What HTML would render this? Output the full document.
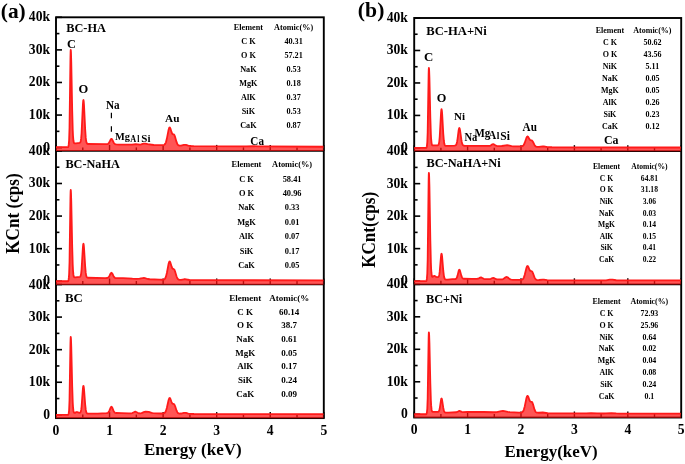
<!DOCTYPE html><html><head><meta charset="utf-8"><style>html,body{margin:0;padding:0;background:#fff;}svg{display:block;}text{font-family:"Liberation Serif", serif;fill:#000;} .tx{filter:grayscale(1);}</style></head><body>
<svg width="685" height="464" viewBox="0 0 685 464">
<rect width="685" height="464" fill="#fff"/>
<line x1="56.00" y1="147.64" x2="62.00" y2="147.64" stroke="#000" stroke-width="1.6"/>
<line x1="56.00" y1="131.35" x2="59.40" y2="131.35" stroke="#000" stroke-width="1.6"/>
<line x1="56.00" y1="115.06" x2="62.00" y2="115.06" stroke="#000" stroke-width="1.6"/>
<line x1="56.00" y1="98.76" x2="59.40" y2="98.76" stroke="#000" stroke-width="1.6"/>
<line x1="56.00" y1="82.47" x2="62.00" y2="82.47" stroke="#000" stroke-width="1.6"/>
<line x1="56.00" y1="66.18" x2="59.40" y2="66.18" stroke="#000" stroke-width="1.6"/>
<line x1="56.00" y1="49.89" x2="62.00" y2="49.89" stroke="#000" stroke-width="1.6"/>
<line x1="56.00" y1="33.59" x2="59.40" y2="33.59" stroke="#000" stroke-width="1.6"/>
<line x1="56.00" y1="17.30" x2="62.00" y2="17.30" stroke="#000" stroke-width="1.6"/>
<line x1="56.00" y1="150.90" x2="56.00" y2="144.90" stroke="#000" stroke-width="1.4"/>
<line x1="82.78" y1="150.90" x2="82.78" y2="147.40" stroke="#000" stroke-width="1.4"/>
<line x1="109.56" y1="150.90" x2="109.56" y2="144.90" stroke="#000" stroke-width="1.4"/>
<line x1="136.34" y1="150.90" x2="136.34" y2="147.40" stroke="#000" stroke-width="1.4"/>
<line x1="163.12" y1="150.90" x2="163.12" y2="144.90" stroke="#000" stroke-width="1.4"/>
<line x1="189.90" y1="150.90" x2="189.90" y2="147.40" stroke="#000" stroke-width="1.4"/>
<line x1="216.68" y1="150.90" x2="216.68" y2="144.90" stroke="#000" stroke-width="1.4"/>
<line x1="243.46" y1="150.90" x2="243.46" y2="147.40" stroke="#000" stroke-width="1.4"/>
<line x1="270.24" y1="150.90" x2="270.24" y2="144.90" stroke="#000" stroke-width="1.4"/>
<line x1="297.02" y1="150.90" x2="297.02" y2="147.40" stroke="#000" stroke-width="1.4"/>
<line x1="323.80" y1="150.90" x2="323.80" y2="144.90" stroke="#000" stroke-width="1.4"/>
<line x1="56.00" y1="281.24" x2="62.00" y2="281.24" stroke="#000" stroke-width="1.6"/>
<line x1="56.00" y1="264.95" x2="59.40" y2="264.95" stroke="#000" stroke-width="1.6"/>
<line x1="56.00" y1="248.66" x2="62.00" y2="248.66" stroke="#000" stroke-width="1.6"/>
<line x1="56.00" y1="232.36" x2="59.40" y2="232.36" stroke="#000" stroke-width="1.6"/>
<line x1="56.00" y1="216.07" x2="62.00" y2="216.07" stroke="#000" stroke-width="1.6"/>
<line x1="56.00" y1="199.78" x2="59.40" y2="199.78" stroke="#000" stroke-width="1.6"/>
<line x1="56.00" y1="183.49" x2="62.00" y2="183.49" stroke="#000" stroke-width="1.6"/>
<line x1="56.00" y1="167.19" x2="59.40" y2="167.19" stroke="#000" stroke-width="1.6"/>
<line x1="56.00" y1="150.90" x2="62.00" y2="150.90" stroke="#000" stroke-width="1.6"/>
<line x1="56.00" y1="284.50" x2="56.00" y2="278.50" stroke="#000" stroke-width="1.4"/>
<line x1="82.78" y1="284.50" x2="82.78" y2="281.00" stroke="#000" stroke-width="1.4"/>
<line x1="109.56" y1="284.50" x2="109.56" y2="278.50" stroke="#000" stroke-width="1.4"/>
<line x1="136.34" y1="284.50" x2="136.34" y2="281.00" stroke="#000" stroke-width="1.4"/>
<line x1="163.12" y1="284.50" x2="163.12" y2="278.50" stroke="#000" stroke-width="1.4"/>
<line x1="189.90" y1="284.50" x2="189.90" y2="281.00" stroke="#000" stroke-width="1.4"/>
<line x1="216.68" y1="284.50" x2="216.68" y2="278.50" stroke="#000" stroke-width="1.4"/>
<line x1="243.46" y1="284.50" x2="243.46" y2="281.00" stroke="#000" stroke-width="1.4"/>
<line x1="270.24" y1="284.50" x2="270.24" y2="278.50" stroke="#000" stroke-width="1.4"/>
<line x1="297.02" y1="284.50" x2="297.02" y2="281.00" stroke="#000" stroke-width="1.4"/>
<line x1="323.80" y1="284.50" x2="323.80" y2="278.50" stroke="#000" stroke-width="1.4"/>
<line x1="56.00" y1="414.84" x2="62.00" y2="414.84" stroke="#000" stroke-width="1.6"/>
<line x1="56.00" y1="398.55" x2="59.40" y2="398.55" stroke="#000" stroke-width="1.6"/>
<line x1="56.00" y1="382.26" x2="62.00" y2="382.26" stroke="#000" stroke-width="1.6"/>
<line x1="56.00" y1="365.96" x2="59.40" y2="365.96" stroke="#000" stroke-width="1.6"/>
<line x1="56.00" y1="349.67" x2="62.00" y2="349.67" stroke="#000" stroke-width="1.6"/>
<line x1="56.00" y1="333.38" x2="59.40" y2="333.38" stroke="#000" stroke-width="1.6"/>
<line x1="56.00" y1="317.09" x2="62.00" y2="317.09" stroke="#000" stroke-width="1.6"/>
<line x1="56.00" y1="300.79" x2="59.40" y2="300.79" stroke="#000" stroke-width="1.6"/>
<line x1="56.00" y1="284.50" x2="62.00" y2="284.50" stroke="#000" stroke-width="1.6"/>
<line x1="56.00" y1="418.10" x2="56.00" y2="412.10" stroke="#000" stroke-width="1.4"/>
<line x1="82.78" y1="418.10" x2="82.78" y2="414.60" stroke="#000" stroke-width="1.4"/>
<line x1="109.56" y1="418.10" x2="109.56" y2="412.10" stroke="#000" stroke-width="1.4"/>
<line x1="136.34" y1="418.10" x2="136.34" y2="414.60" stroke="#000" stroke-width="1.4"/>
<line x1="163.12" y1="418.10" x2="163.12" y2="412.10" stroke="#000" stroke-width="1.4"/>
<line x1="189.90" y1="418.10" x2="189.90" y2="414.60" stroke="#000" stroke-width="1.4"/>
<line x1="216.68" y1="418.10" x2="216.68" y2="412.10" stroke="#000" stroke-width="1.4"/>
<line x1="243.46" y1="418.10" x2="243.46" y2="414.60" stroke="#000" stroke-width="1.4"/>
<line x1="270.24" y1="418.10" x2="270.24" y2="412.10" stroke="#000" stroke-width="1.4"/>
<line x1="297.02" y1="418.10" x2="297.02" y2="414.60" stroke="#000" stroke-width="1.4"/>
<line x1="323.80" y1="418.10" x2="323.80" y2="412.10" stroke="#000" stroke-width="1.4"/>
<rect x="56.00" y="17.30" width="267.80" height="400.80" fill="none" stroke="#000" stroke-width="1.9"/>
<line x1="56.00" y1="150.90" x2="323.80" y2="150.90" stroke="#000" stroke-width="1.7"/>
<line x1="56.00" y1="284.50" x2="323.80" y2="284.50" stroke="#000" stroke-width="1.7"/>
<path d="M56.00,151.10 L56.00,147.09 L68.05,147.07 L68.18,146.96 L68.45,146.19 L68.72,144.70 L69.12,139.96 L69.52,127.55 L70.46,57.65 L70.60,51.86 L70.73,49.83 L70.86,50.63 L71.00,53.01 L71.26,61.93 L72.20,110.63 L72.74,130.13 L73.01,135.80 L73.41,140.51 L73.81,142.47 L74.08,143.00 L74.48,143.30 L75.01,143.39 L75.95,143.34 L79.70,142.82 L80.10,142.56 L80.37,142.17 L80.77,140.91 L81.17,138.19 L81.57,133.23 L82.91,104.52 L83.18,101.04 L83.32,100.20 L83.45,100.02 L83.72,101.40 L83.99,104.79 L85.19,129.64 L85.73,137.39 L86.13,140.77 L86.53,142.60 L86.80,143.25 L87.06,143.64 L87.33,143.85 L87.73,144.00 L105.14,144.20 L107.28,144.10 L108.09,143.77 L108.76,143.13 L109.29,142.28 L110.63,139.57 L111.03,139.05 L111.43,138.87 L111.84,139.07 L112.24,139.61 L113.58,142.39 L114.25,143.43 L115.05,144.09 L116.12,144.40 L119.20,144.54 L130.31,144.64 L132.06,144.57 L135.80,144.22 L139.82,144.53 L141.16,144.36 L143.57,143.72 L144.51,143.63 L145.45,143.73 L147.72,144.18 L153.75,145.01 L160.98,145.19 L162.58,145.17 L163.52,145.07 L164.33,144.76 L164.86,144.30 L165.40,143.50 L165.93,142.23 L166.87,138.60 L168.61,129.70 L169.15,128.01 L169.41,127.57 L169.68,127.42 L169.95,127.59 L170.35,128.35 L171.56,132.15 L172.09,133.40 L172.63,134.05 L173.56,134.34 L173.97,134.57 L174.50,135.33 L175.17,137.15 L176.51,141.88 L177.31,143.92 L177.72,144.58 L178.25,145.14 L178.79,145.43 L179.32,145.56 L181.06,145.53 L183.87,144.94 L184.95,144.83 L186.02,144.96 L188.29,145.62 L189.50,145.87 L191.11,146.02 L193.78,146.10 L246.27,146.33 L253.77,146.13 L258.59,146.38 L262.34,146.46 L323.40,146.76 L323.40,151.10 Z" fill="rgba(255,20,20,0.72)" stroke="none"/>
<path d="M56.00,147.09 L68.05,147.07 L68.18,146.96 L68.45,146.19 L68.72,144.70 L69.12,139.96 L69.52,127.55 L70.46,57.65 L70.60,51.86 L70.73,49.83 L70.86,50.63 L71.00,53.01 L71.26,61.93 L72.20,110.63 L72.74,130.13 L73.01,135.80 L73.41,140.51 L73.81,142.47 L74.08,143.00 L74.48,143.30 L75.01,143.39 L75.95,143.34 L79.70,142.82 L80.10,142.56 L80.37,142.17 L80.77,140.91 L81.17,138.19 L81.57,133.23 L82.91,104.52 L83.18,101.04 L83.32,100.20 L83.45,100.02 L83.72,101.40 L83.99,104.79 L85.19,129.64 L85.73,137.39 L86.13,140.77 L86.53,142.60 L86.80,143.25 L87.06,143.64 L87.33,143.85 L87.73,144.00 L105.14,144.20 L107.28,144.10 L108.09,143.77 L108.76,143.13 L109.29,142.28 L110.63,139.57 L111.03,139.05 L111.43,138.87 L111.84,139.07 L112.24,139.61 L113.58,142.39 L114.25,143.43 L115.05,144.09 L116.12,144.40 L119.20,144.54 L130.31,144.64 L132.06,144.57 L135.80,144.22 L139.82,144.53 L141.16,144.36 L143.57,143.72 L144.51,143.63 L145.45,143.73 L147.72,144.18 L153.75,145.01 L160.98,145.19 L162.58,145.17 L163.52,145.07 L164.33,144.76 L164.86,144.30 L165.40,143.50 L165.93,142.23 L166.87,138.60 L168.61,129.70 L169.15,128.01 L169.41,127.57 L169.68,127.42 L169.95,127.59 L170.35,128.35 L171.56,132.15 L172.09,133.40 L172.63,134.05 L173.56,134.34 L173.97,134.57 L174.50,135.33 L175.17,137.15 L176.51,141.88 L177.31,143.92 L177.72,144.58 L178.25,145.14 L178.79,145.43 L179.32,145.56 L181.06,145.53 L183.87,144.94 L184.95,144.83 L186.02,144.96 L188.29,145.62 L189.50,145.87 L191.11,146.02 L193.78,146.10 L246.27,146.33 L253.77,146.13 L258.59,146.38 L262.34,146.46 L323.40,146.76" fill="none" stroke="#ff1a1a" stroke-width="1.8" stroke-linejoin="round"/>
<path d="M56.00,284.70 L56.00,281.24 L68.05,281.23 L68.32,280.79 L68.59,279.64 L68.85,277.67 L69.12,274.18 L69.52,262.54 L70.46,197.27 L70.60,191.86 L70.73,189.97 L70.86,190.72 L71.00,192.95 L71.26,201.29 L72.20,246.79 L72.74,265.01 L73.01,270.30 L73.41,274.70 L73.81,276.52 L74.08,277.00 L74.48,277.26 L75.15,277.29 L79.70,276.93 L80.10,276.73 L80.37,276.43 L80.77,275.45 L81.17,273.34 L81.57,269.50 L82.91,247.25 L83.18,244.55 L83.32,243.90 L83.45,243.76 L83.72,244.82 L83.99,247.44 L85.19,266.68 L85.73,272.67 L86.13,275.28 L86.53,276.70 L87.06,277.50 L87.73,277.77 L105.14,278.11 L107.28,278.02 L108.09,277.70 L108.76,277.05 L109.29,276.21 L110.63,273.49 L111.03,272.96 L111.43,272.77 L111.84,272.96 L112.24,273.49 L113.58,276.21 L114.25,277.22 L114.92,277.78 L115.85,278.08 L123.08,278.20 L132.46,278.70 L136.34,278.80 L139.55,278.70 L142.77,278.08 L143.84,278.01 L144.91,278.17 L147.72,278.99 L149.73,279.26 L159.24,279.72 L162.18,279.76 L163.52,279.64 L164.33,279.32 L164.86,278.85 L165.40,278.02 L165.93,276.70 L166.87,272.96 L168.61,263.79 L169.15,262.05 L169.41,261.60 L169.68,261.45 L169.95,261.62 L170.35,262.41 L171.56,266.42 L172.23,268.04 L172.76,268.64 L173.97,269.20 L174.37,269.71 L174.64,270.23 L175.17,271.72 L176.51,276.28 L177.31,278.24 L177.72,278.87 L178.25,279.41 L178.79,279.69 L179.32,279.82 L181.06,279.80 L184.01,279.27 L184.95,279.19 L186.02,279.29 L189.50,280.00 L193.65,280.16 L323.40,280.33 L323.40,284.70 Z" fill="rgba(255,20,20,0.72)" stroke="none"/>
<path d="M56.00,281.24 L68.05,281.23 L68.32,280.79 L68.59,279.64 L68.85,277.67 L69.12,274.18 L69.52,262.54 L70.46,197.27 L70.60,191.86 L70.73,189.97 L70.86,190.72 L71.00,192.95 L71.26,201.29 L72.20,246.79 L72.74,265.01 L73.01,270.30 L73.41,274.70 L73.81,276.52 L74.08,277.00 L74.48,277.26 L75.15,277.29 L79.70,276.93 L80.10,276.73 L80.37,276.43 L80.77,275.45 L81.17,273.34 L81.57,269.50 L82.91,247.25 L83.18,244.55 L83.32,243.90 L83.45,243.76 L83.72,244.82 L83.99,247.44 L85.19,266.68 L85.73,272.67 L86.13,275.28 L86.53,276.70 L87.06,277.50 L87.73,277.77 L105.14,278.11 L107.28,278.02 L108.09,277.70 L108.76,277.05 L109.29,276.21 L110.63,273.49 L111.03,272.96 L111.43,272.77 L111.84,272.96 L112.24,273.49 L113.58,276.21 L114.25,277.22 L114.92,277.78 L115.85,278.08 L123.08,278.20 L132.46,278.70 L136.34,278.80 L139.55,278.70 L142.77,278.08 L143.84,278.01 L144.91,278.17 L147.72,278.99 L149.73,279.26 L159.24,279.72 L162.18,279.76 L163.52,279.64 L164.33,279.32 L164.86,278.85 L165.40,278.02 L165.93,276.70 L166.87,272.96 L168.61,263.79 L169.15,262.05 L169.41,261.60 L169.68,261.45 L169.95,261.62 L170.35,262.41 L171.56,266.42 L172.23,268.04 L172.76,268.64 L173.97,269.20 L174.37,269.71 L174.64,270.23 L175.17,271.72 L176.51,276.28 L177.31,278.24 L177.72,278.87 L178.25,279.41 L178.79,279.69 L179.32,279.82 L181.06,279.80 L184.01,279.27 L184.95,279.19 L186.02,279.29 L189.50,280.00 L193.65,280.16 L323.40,280.33" fill="none" stroke="#ff1a1a" stroke-width="1.8" stroke-linejoin="round"/>
<path d="M56.00,418.30 L56.00,414.84 L68.05,414.83 L68.18,414.77 L68.45,414.35 L68.72,413.45 L69.12,410.03 L69.52,400.06 L70.46,343.29 L70.60,338.58 L70.73,336.94 L70.86,337.59 L71.00,339.52 L71.26,346.78 L72.20,386.37 L72.74,402.23 L73.01,406.84 L73.41,410.68 L73.81,412.26 L74.08,412.68 L74.34,412.86 L75.01,412.83 L76.35,412.15 L76.89,412.01 L77.42,412.11 L78.76,412.70 L79.70,412.79 L80.10,412.65 L80.37,412.41 L80.77,411.62 L81.17,409.91 L81.57,406.78 L82.91,388.66 L83.18,386.47 L83.32,385.94 L83.45,385.83 L83.72,386.70 L83.99,388.85 L85.19,404.57 L85.73,409.47 L86.13,411.61 L86.53,412.77 L87.06,413.43 L87.73,413.66 L97.64,413.68 L106.48,413.19 L107.42,413.03 L108.09,412.68 L108.76,411.90 L109.29,410.88 L110.63,407.62 L111.03,406.98 L111.43,406.75 L111.84,406.97 L112.24,407.59 L113.58,410.82 L114.25,412.01 L114.65,412.47 L115.05,412.75 L115.99,413.02 L121.74,413.07 L128.71,413.34 L130.85,413.34 L132.32,413.07 L134.47,411.94 L135.27,411.75 L136.07,411.94 L138.21,413.07 L139.02,413.26 L140.09,413.30 L141.56,413.08 L144.37,411.86 L145.71,411.65 L148.79,411.95 L151.60,412.88 L153.08,413.14 L160.98,413.50 L162.58,413.51 L163.52,413.42 L164.33,413.15 L164.86,412.75 L165.40,412.05 L165.93,410.93 L166.87,407.76 L168.61,399.97 L169.15,398.48 L169.41,398.09 L169.68,397.96 L169.95,398.09 L170.35,398.74 L171.56,402.03 L172.09,403.11 L172.63,403.66 L173.97,404.08 L174.50,404.73 L175.17,406.31 L176.51,410.41 L177.31,412.17 L177.72,412.74 L178.25,413.22 L178.79,413.48 L179.32,413.59 L181.20,413.52 L183.87,412.93 L184.95,412.82 L186.02,412.94 L188.29,413.58 L189.63,413.83 L193.92,414.02 L323.40,414.12 L323.40,418.30 Z" fill="rgba(255,20,20,0.72)" stroke="none"/>
<path d="M56.00,414.84 L68.05,414.83 L68.18,414.77 L68.45,414.35 L68.72,413.45 L69.12,410.03 L69.52,400.06 L70.46,343.29 L70.60,338.58 L70.73,336.94 L70.86,337.59 L71.00,339.52 L71.26,346.78 L72.20,386.37 L72.74,402.23 L73.01,406.84 L73.41,410.68 L73.81,412.26 L74.08,412.68 L74.34,412.86 L75.01,412.83 L76.35,412.15 L76.89,412.01 L77.42,412.11 L78.76,412.70 L79.70,412.79 L80.10,412.65 L80.37,412.41 L80.77,411.62 L81.17,409.91 L81.57,406.78 L82.91,388.66 L83.18,386.47 L83.32,385.94 L83.45,385.83 L83.72,386.70 L83.99,388.85 L85.19,404.57 L85.73,409.47 L86.13,411.61 L86.53,412.77 L87.06,413.43 L87.73,413.66 L97.64,413.68 L106.48,413.19 L107.42,413.03 L108.09,412.68 L108.76,411.90 L109.29,410.88 L110.63,407.62 L111.03,406.98 L111.43,406.75 L111.84,406.97 L112.24,407.59 L113.58,410.82 L114.25,412.01 L114.65,412.47 L115.05,412.75 L115.99,413.02 L121.74,413.07 L128.71,413.34 L130.85,413.34 L132.32,413.07 L134.47,411.94 L135.27,411.75 L136.07,411.94 L138.21,413.07 L139.02,413.26 L140.09,413.30 L141.56,413.08 L144.37,411.86 L145.71,411.65 L148.79,411.95 L151.60,412.88 L153.08,413.14 L160.98,413.50 L162.58,413.51 L163.52,413.42 L164.33,413.15 L164.86,412.75 L165.40,412.05 L165.93,410.93 L166.87,407.76 L168.61,399.97 L169.15,398.48 L169.41,398.09 L169.68,397.96 L169.95,398.09 L170.35,398.74 L171.56,402.03 L172.09,403.11 L172.63,403.66 L173.97,404.08 L174.50,404.73 L175.17,406.31 L176.51,410.41 L177.31,412.17 L177.72,412.74 L178.25,413.22 L178.79,413.48 L179.32,413.59 L181.20,413.52 L183.87,412.93 L184.95,412.82 L186.02,412.94 L188.29,413.58 L189.63,413.83 L193.92,414.02 L323.40,414.12" fill="none" stroke="#ff1a1a" stroke-width="1.8" stroke-linejoin="round"/>
<line x1="414.20" y1="147.92" x2="420.20" y2="147.92" stroke="#000" stroke-width="1.6"/>
<line x1="414.20" y1="131.68" x2="417.60" y2="131.68" stroke="#000" stroke-width="1.6"/>
<line x1="414.20" y1="115.44" x2="420.20" y2="115.44" stroke="#000" stroke-width="1.6"/>
<line x1="414.20" y1="99.20" x2="417.60" y2="99.20" stroke="#000" stroke-width="1.6"/>
<line x1="414.20" y1="82.96" x2="420.20" y2="82.96" stroke="#000" stroke-width="1.6"/>
<line x1="414.20" y1="66.72" x2="417.60" y2="66.72" stroke="#000" stroke-width="1.6"/>
<line x1="414.20" y1="50.48" x2="420.20" y2="50.48" stroke="#000" stroke-width="1.6"/>
<line x1="414.20" y1="34.24" x2="417.60" y2="34.24" stroke="#000" stroke-width="1.6"/>
<line x1="414.20" y1="18.00" x2="420.20" y2="18.00" stroke="#000" stroke-width="1.6"/>
<line x1="414.20" y1="151.17" x2="414.20" y2="145.17" stroke="#000" stroke-width="1.4"/>
<line x1="440.90" y1="151.17" x2="440.90" y2="147.67" stroke="#000" stroke-width="1.4"/>
<line x1="467.60" y1="151.17" x2="467.60" y2="145.17" stroke="#000" stroke-width="1.4"/>
<line x1="494.30" y1="151.17" x2="494.30" y2="147.67" stroke="#000" stroke-width="1.4"/>
<line x1="521.00" y1="151.17" x2="521.00" y2="145.17" stroke="#000" stroke-width="1.4"/>
<line x1="547.70" y1="151.17" x2="547.70" y2="147.67" stroke="#000" stroke-width="1.4"/>
<line x1="574.40" y1="151.17" x2="574.40" y2="145.17" stroke="#000" stroke-width="1.4"/>
<line x1="601.10" y1="151.17" x2="601.10" y2="147.67" stroke="#000" stroke-width="1.4"/>
<line x1="627.80" y1="151.17" x2="627.80" y2="145.17" stroke="#000" stroke-width="1.4"/>
<line x1="654.50" y1="151.17" x2="654.50" y2="147.67" stroke="#000" stroke-width="1.4"/>
<line x1="681.20" y1="151.17" x2="681.20" y2="145.17" stroke="#000" stroke-width="1.4"/>
<line x1="414.20" y1="281.09" x2="420.20" y2="281.09" stroke="#000" stroke-width="1.6"/>
<line x1="414.20" y1="264.85" x2="417.60" y2="264.85" stroke="#000" stroke-width="1.6"/>
<line x1="414.20" y1="248.61" x2="420.20" y2="248.61" stroke="#000" stroke-width="1.6"/>
<line x1="414.20" y1="232.37" x2="417.60" y2="232.37" stroke="#000" stroke-width="1.6"/>
<line x1="414.20" y1="216.13" x2="420.20" y2="216.13" stroke="#000" stroke-width="1.6"/>
<line x1="414.20" y1="199.89" x2="417.60" y2="199.89" stroke="#000" stroke-width="1.6"/>
<line x1="414.20" y1="183.65" x2="420.20" y2="183.65" stroke="#000" stroke-width="1.6"/>
<line x1="414.20" y1="167.41" x2="417.60" y2="167.41" stroke="#000" stroke-width="1.6"/>
<line x1="414.20" y1="151.17" x2="420.20" y2="151.17" stroke="#000" stroke-width="1.6"/>
<line x1="414.20" y1="284.34" x2="414.20" y2="278.34" stroke="#000" stroke-width="1.4"/>
<line x1="440.90" y1="284.34" x2="440.90" y2="280.84" stroke="#000" stroke-width="1.4"/>
<line x1="467.60" y1="284.34" x2="467.60" y2="278.34" stroke="#000" stroke-width="1.4"/>
<line x1="494.30" y1="284.34" x2="494.30" y2="280.84" stroke="#000" stroke-width="1.4"/>
<line x1="521.00" y1="284.34" x2="521.00" y2="278.34" stroke="#000" stroke-width="1.4"/>
<line x1="547.70" y1="284.34" x2="547.70" y2="280.84" stroke="#000" stroke-width="1.4"/>
<line x1="574.40" y1="284.34" x2="574.40" y2="278.34" stroke="#000" stroke-width="1.4"/>
<line x1="601.10" y1="284.34" x2="601.10" y2="280.84" stroke="#000" stroke-width="1.4"/>
<line x1="627.80" y1="284.34" x2="627.80" y2="278.34" stroke="#000" stroke-width="1.4"/>
<line x1="654.50" y1="284.34" x2="654.50" y2="280.84" stroke="#000" stroke-width="1.4"/>
<line x1="681.20" y1="284.34" x2="681.20" y2="278.34" stroke="#000" stroke-width="1.4"/>
<line x1="414.20" y1="414.26" x2="420.20" y2="414.26" stroke="#000" stroke-width="1.6"/>
<line x1="414.20" y1="398.02" x2="417.60" y2="398.02" stroke="#000" stroke-width="1.6"/>
<line x1="414.20" y1="381.78" x2="420.20" y2="381.78" stroke="#000" stroke-width="1.6"/>
<line x1="414.20" y1="365.54" x2="417.60" y2="365.54" stroke="#000" stroke-width="1.6"/>
<line x1="414.20" y1="349.30" x2="420.20" y2="349.30" stroke="#000" stroke-width="1.6"/>
<line x1="414.20" y1="333.06" x2="417.60" y2="333.06" stroke="#000" stroke-width="1.6"/>
<line x1="414.20" y1="316.82" x2="420.20" y2="316.82" stroke="#000" stroke-width="1.6"/>
<line x1="414.20" y1="300.58" x2="417.60" y2="300.58" stroke="#000" stroke-width="1.6"/>
<line x1="414.20" y1="284.34" x2="420.20" y2="284.34" stroke="#000" stroke-width="1.6"/>
<line x1="414.20" y1="417.51" x2="414.20" y2="411.51" stroke="#000" stroke-width="1.4"/>
<line x1="440.90" y1="417.51" x2="440.90" y2="414.01" stroke="#000" stroke-width="1.4"/>
<line x1="467.60" y1="417.51" x2="467.60" y2="411.51" stroke="#000" stroke-width="1.4"/>
<line x1="494.30" y1="417.51" x2="494.30" y2="414.01" stroke="#000" stroke-width="1.4"/>
<line x1="521.00" y1="417.51" x2="521.00" y2="411.51" stroke="#000" stroke-width="1.4"/>
<line x1="547.70" y1="417.51" x2="547.70" y2="414.01" stroke="#000" stroke-width="1.4"/>
<line x1="574.40" y1="417.51" x2="574.40" y2="411.51" stroke="#000" stroke-width="1.4"/>
<line x1="601.10" y1="417.51" x2="601.10" y2="414.01" stroke="#000" stroke-width="1.4"/>
<line x1="627.80" y1="417.51" x2="627.80" y2="411.51" stroke="#000" stroke-width="1.4"/>
<line x1="654.50" y1="417.51" x2="654.50" y2="414.01" stroke="#000" stroke-width="1.4"/>
<line x1="681.20" y1="417.51" x2="681.20" y2="411.51" stroke="#000" stroke-width="1.4"/>
<rect x="414.20" y="18.00" width="267.00" height="399.51" fill="none" stroke="#000" stroke-width="1.9"/>
<line x1="414.20" y1="151.17" x2="681.20" y2="151.17" stroke="#000" stroke-width="1.7"/>
<line x1="414.20" y1="284.34" x2="681.20" y2="284.34" stroke="#000" stroke-width="1.7"/>
<path d="M414.20,151.37 L414.20,147.92 L426.21,147.91 L426.35,147.83 L426.62,147.28 L426.88,146.20 L427.28,142.47 L427.68,132.26 L428.62,74.47 L428.75,69.68 L428.88,68.01 L429.02,68.67 L429.15,70.64 L429.42,78.03 L430.35,118.36 L430.89,134.50 L431.15,139.20 L431.56,143.11 L431.96,144.73 L432.22,145.17 L432.62,145.41 L433.42,145.46 L437.83,145.24 L438.23,145.03 L438.50,144.70 L438.90,143.64 L439.30,141.34 L439.70,137.16 L441.03,113.01 L441.30,110.07 L441.43,109.36 L441.57,109.20 L441.83,110.34 L442.10,113.17 L443.30,133.96 L443.84,140.45 L444.24,143.26 L444.64,144.78 L444.90,145.32 L445.17,145.64 L445.84,145.92 L448.38,145.94 L454.52,145.67 L455.45,145.48 L455.99,145.06 L456.52,144.03 L457.05,141.96 L457.59,138.57 L458.66,130.20 L459.06,128.34 L459.32,127.97 L459.59,128.30 L459.99,129.91 L461.33,139.45 L461.73,141.76 L462.13,143.42 L462.53,144.50 L463.06,145.28 L463.59,145.60 L464.40,145.75 L480.82,145.96 L488.83,145.97 L489.63,145.87 L490.29,145.67 L490.96,145.33 L492.43,144.35 L493.23,144.13 L494.03,144.37 L495.50,145.39 L496.17,145.75 L496.84,145.97 L497.64,146.08 L499.51,146.12 L501.78,146.01 L505.78,145.34 L507.12,145.25 L508.45,145.40 L511.65,146.10 L513.39,146.30 L518.73,146.45 L521.53,146.37 L522.33,146.17 L522.87,145.87 L523.40,145.36 L523.80,144.79 L524.74,142.75 L526.47,137.73 L527.01,136.78 L527.27,136.53 L527.54,136.45 L527.81,136.55 L528.21,136.98 L529.41,139.13 L529.94,139.83 L530.48,140.18 L531.81,140.47 L532.35,140.91 L533.01,141.98 L534.35,144.73 L535.15,145.92 L535.55,146.30 L536.09,146.63 L537.15,146.87 L538.89,146.85 L542.76,146.39 L543.83,146.48 L547.43,147.11 L551.97,147.27 L680.80,147.50 L680.80,151.37 Z" fill="rgba(255,20,20,0.72)" stroke="none"/>
<path d="M414.20,147.92 L426.21,147.91 L426.35,147.83 L426.62,147.28 L426.88,146.20 L427.28,142.47 L427.68,132.26 L428.62,74.47 L428.75,69.68 L428.88,68.01 L429.02,68.67 L429.15,70.64 L429.42,78.03 L430.35,118.36 L430.89,134.50 L431.15,139.20 L431.56,143.11 L431.96,144.73 L432.22,145.17 L432.62,145.41 L433.42,145.46 L437.83,145.24 L438.23,145.03 L438.50,144.70 L438.90,143.64 L439.30,141.34 L439.70,137.16 L441.03,113.01 L441.30,110.07 L441.43,109.36 L441.57,109.20 L441.83,110.34 L442.10,113.17 L443.30,133.96 L443.84,140.45 L444.24,143.26 L444.64,144.78 L444.90,145.32 L445.17,145.64 L445.84,145.92 L448.38,145.94 L454.52,145.67 L455.45,145.48 L455.99,145.06 L456.52,144.03 L457.05,141.96 L457.59,138.57 L458.66,130.20 L459.06,128.34 L459.32,127.97 L459.59,128.30 L459.99,129.91 L461.33,139.45 L461.73,141.76 L462.13,143.42 L462.53,144.50 L463.06,145.28 L463.59,145.60 L464.40,145.75 L480.82,145.96 L488.83,145.97 L489.63,145.87 L490.29,145.67 L490.96,145.33 L492.43,144.35 L493.23,144.13 L494.03,144.37 L495.50,145.39 L496.17,145.75 L496.84,145.97 L497.64,146.08 L499.51,146.12 L501.78,146.01 L505.78,145.34 L507.12,145.25 L508.45,145.40 L511.65,146.10 L513.39,146.30 L518.73,146.45 L521.53,146.37 L522.33,146.17 L522.87,145.87 L523.40,145.36 L523.80,144.79 L524.74,142.75 L526.47,137.73 L527.01,136.78 L527.27,136.53 L527.54,136.45 L527.81,136.55 L528.21,136.98 L529.41,139.13 L529.94,139.83 L530.48,140.18 L531.81,140.47 L532.35,140.91 L533.01,141.98 L534.35,144.73 L535.15,145.92 L535.55,146.30 L536.09,146.63 L537.15,146.87 L538.89,146.85 L542.76,146.39 L543.83,146.48 L547.43,147.11 L551.97,147.27 L680.80,147.50" fill="none" stroke="#ff1a1a" stroke-width="1.8" stroke-linejoin="round"/>
<path d="M414.20,284.54 L414.20,281.09 L426.21,281.07 L426.35,280.96 L426.62,280.19 L426.88,278.67 L427.28,273.57 L427.68,259.75 L428.62,181.64 L428.75,175.16 L428.88,172.90 L429.02,173.80 L429.15,176.46 L429.42,186.45 L430.35,240.92 L430.89,262.72 L431.15,269.05 L431.42,272.99 L431.82,275.91 L432.09,276.68 L432.36,276.95 L432.76,276.89 L433.82,276.07 L434.36,275.94 L434.76,276.07 L436.23,277.00 L436.89,277.16 L437.70,277.15 L438.36,276.90 L438.63,276.62 L438.90,276.10 L439.30,274.63 L439.70,271.91 L441.03,256.12 L441.30,254.24 L441.43,253.81 L441.57,253.76 L441.83,254.62 L442.10,256.61 L443.30,270.98 L443.97,276.28 L444.37,277.96 L444.77,278.86 L445.31,279.40 L445.97,279.60 L447.71,279.59 L452.38,279.21 L454.92,279.11 L455.58,279.00 L456.12,278.71 L456.65,278.04 L457.05,277.16 L457.59,275.37 L458.66,270.94 L459.06,269.95 L459.32,269.74 L459.59,269.89 L459.99,270.72 L461.33,275.63 L461.99,277.42 L462.66,278.34 L463.06,278.60 L463.59,278.75 L471.60,278.97 L476.81,278.97 L478.15,278.71 L480.15,277.67 L480.95,277.49 L481.75,277.70 L483.75,278.79 L485.09,279.09 L488.16,279.20 L489.76,279.11 L490.83,278.81 L492.43,278.04 L493.23,277.89 L494.03,278.09 L495.63,278.94 L496.70,279.30 L498.17,279.45 L500.97,279.44 L502.18,279.33 L503.11,279.04 L503.91,278.58 L505.65,277.27 L506.18,277.04 L506.58,276.99 L506.98,277.06 L507.52,277.32 L509.79,279.10 L510.45,279.41 L511.25,279.63 L512.86,279.79 L516.73,279.90 L520.07,279.94 L521.40,279.85 L522.20,279.61 L522.74,279.25 L523.27,278.62 L523.80,277.62 L524.74,274.77 L526.47,267.79 L527.01,266.46 L527.27,266.11 L527.54,265.98 L527.81,266.10 L528.21,266.67 L529.41,269.56 L529.94,270.49 L530.48,270.94 L531.41,271.10 L531.81,271.26 L532.35,271.85 L533.01,273.30 L534.48,277.40 L535.28,278.90 L536.09,279.68 L536.62,279.92 L537.29,280.04 L539.02,280.00 L542.76,279.55 L543.83,279.63 L547.17,280.21 L550.64,280.36 L602.84,280.39 L606.04,280.28 L609.78,279.71 L611.38,279.59 L612.45,279.67 L616.19,280.26 L619.39,280.40 L680.80,280.44 L680.80,284.54 Z" fill="rgba(255,20,20,0.72)" stroke="none"/>
<path d="M414.20,281.09 L426.21,281.07 L426.35,280.96 L426.62,280.19 L426.88,278.67 L427.28,273.57 L427.68,259.75 L428.62,181.64 L428.75,175.16 L428.88,172.90 L429.02,173.80 L429.15,176.46 L429.42,186.45 L430.35,240.92 L430.89,262.72 L431.15,269.05 L431.42,272.99 L431.82,275.91 L432.09,276.68 L432.36,276.95 L432.76,276.89 L433.82,276.07 L434.36,275.94 L434.76,276.07 L436.23,277.00 L436.89,277.16 L437.70,277.15 L438.36,276.90 L438.63,276.62 L438.90,276.10 L439.30,274.63 L439.70,271.91 L441.03,256.12 L441.30,254.24 L441.43,253.81 L441.57,253.76 L441.83,254.62 L442.10,256.61 L443.30,270.98 L443.97,276.28 L444.37,277.96 L444.77,278.86 L445.31,279.40 L445.97,279.60 L447.71,279.59 L452.38,279.21 L454.92,279.11 L455.58,279.00 L456.12,278.71 L456.65,278.04 L457.05,277.16 L457.59,275.37 L458.66,270.94 L459.06,269.95 L459.32,269.74 L459.59,269.89 L459.99,270.72 L461.33,275.63 L461.99,277.42 L462.66,278.34 L463.06,278.60 L463.59,278.75 L471.60,278.97 L476.81,278.97 L478.15,278.71 L480.15,277.67 L480.95,277.49 L481.75,277.70 L483.75,278.79 L485.09,279.09 L488.16,279.20 L489.76,279.11 L490.83,278.81 L492.43,278.04 L493.23,277.89 L494.03,278.09 L495.63,278.94 L496.70,279.30 L498.17,279.45 L500.97,279.44 L502.18,279.33 L503.11,279.04 L503.91,278.58 L505.65,277.27 L506.18,277.04 L506.58,276.99 L506.98,277.06 L507.52,277.32 L509.79,279.10 L510.45,279.41 L511.25,279.63 L512.86,279.79 L516.73,279.90 L520.07,279.94 L521.40,279.85 L522.20,279.61 L522.74,279.25 L523.27,278.62 L523.80,277.62 L524.74,274.77 L526.47,267.79 L527.01,266.46 L527.27,266.11 L527.54,265.98 L527.81,266.10 L528.21,266.67 L529.41,269.56 L529.94,270.49 L530.48,270.94 L531.41,271.10 L531.81,271.26 L532.35,271.85 L533.01,273.30 L534.48,277.40 L535.28,278.90 L536.09,279.68 L536.62,279.92 L537.29,280.04 L539.02,280.00 L542.76,279.55 L543.83,279.63 L547.17,280.21 L550.64,280.36 L602.84,280.39 L606.04,280.28 L609.78,279.71 L611.38,279.59 L612.45,279.67 L616.19,280.26 L619.39,280.40 L680.80,280.44" fill="none" stroke="#ff1a1a" stroke-width="1.8" stroke-linejoin="round"/>
<path d="M414.20,417.71 L414.20,414.26 L426.21,414.25 L426.35,414.17 L426.62,413.62 L426.88,412.52 L427.28,408.73 L427.68,398.27 L428.62,339.02 L428.75,334.11 L428.88,332.40 L429.02,333.09 L429.15,335.11 L429.42,342.69 L430.35,384.04 L430.89,400.60 L431.15,405.42 L431.56,409.44 L431.96,411.11 L432.22,411.57 L432.62,411.82 L433.42,411.89 L437.83,411.79 L438.50,411.59 L438.90,411.20 L439.30,410.36 L439.70,408.82 L441.03,399.87 L441.30,398.79 L441.43,398.54 L441.57,398.49 L441.83,398.95 L442.10,400.04 L443.30,407.96 L443.84,410.44 L444.10,411.23 L444.50,411.97 L444.90,412.35 L445.57,412.58 L448.51,412.60 L456.12,412.26 L457.19,411.99 L458.66,411.16 L459.32,410.97 L459.99,411.09 L461.73,411.88 L462.93,412.08 L467.33,411.99 L484.02,411.99 L493.23,412.23 L496.84,412.03 L501.24,411.13 L502.98,410.99 L504.31,411.12 L507.78,411.91 L509.79,412.19 L518.60,412.60 L521.27,412.54 L522.07,412.29 L522.74,411.79 L523.27,411.03 L523.80,409.82 L524.74,406.40 L526.47,398.00 L527.01,396.39 L527.27,395.96 L527.54,395.81 L527.81,395.94 L528.21,396.62 L529.41,400.00 L529.94,401.07 L530.48,401.56 L531.68,401.77 L532.08,402.13 L532.35,402.57 L533.01,404.35 L534.48,409.43 L535.28,411.30 L535.68,411.87 L536.09,412.26 L536.62,412.55 L537.29,412.71 L538.76,412.74 L542.76,412.50 L547.70,413.24 L552.64,413.45 L583.61,413.46 L586.28,413.39 L591.09,413.10 L596.96,413.46 L603.37,413.50 L606.04,413.44 L611.38,413.03 L616.19,413.44 L619.39,413.53 L680.80,413.61 L680.80,417.71 Z" fill="rgba(255,20,20,0.72)" stroke="none"/>
<path d="M414.20,414.26 L426.21,414.25 L426.35,414.17 L426.62,413.62 L426.88,412.52 L427.28,408.73 L427.68,398.27 L428.62,339.02 L428.75,334.11 L428.88,332.40 L429.02,333.09 L429.15,335.11 L429.42,342.69 L430.35,384.04 L430.89,400.60 L431.15,405.42 L431.56,409.44 L431.96,411.11 L432.22,411.57 L432.62,411.82 L433.42,411.89 L437.83,411.79 L438.50,411.59 L438.90,411.20 L439.30,410.36 L439.70,408.82 L441.03,399.87 L441.30,398.79 L441.43,398.54 L441.57,398.49 L441.83,398.95 L442.10,400.04 L443.30,407.96 L443.84,410.44 L444.10,411.23 L444.50,411.97 L444.90,412.35 L445.57,412.58 L448.51,412.60 L456.12,412.26 L457.19,411.99 L458.66,411.16 L459.32,410.97 L459.99,411.09 L461.73,411.88 L462.93,412.08 L467.33,411.99 L484.02,411.99 L493.23,412.23 L496.84,412.03 L501.24,411.13 L502.98,410.99 L504.31,411.12 L507.78,411.91 L509.79,412.19 L518.60,412.60 L521.27,412.54 L522.07,412.29 L522.74,411.79 L523.27,411.03 L523.80,409.82 L524.74,406.40 L526.47,398.00 L527.01,396.39 L527.27,395.96 L527.54,395.81 L527.81,395.94 L528.21,396.62 L529.41,400.00 L529.94,401.07 L530.48,401.56 L531.68,401.77 L532.08,402.13 L532.35,402.57 L533.01,404.35 L534.48,409.43 L535.28,411.30 L535.68,411.87 L536.09,412.26 L536.62,412.55 L537.29,412.71 L538.76,412.74 L542.76,412.50 L547.70,413.24 L552.64,413.45 L583.61,413.46 L586.28,413.39 L591.09,413.10 L596.96,413.46 L603.37,413.50 L606.04,413.44 L611.38,413.03 L616.19,413.44 L619.39,413.53 L680.80,413.61" fill="none" stroke="#ff1a1a" stroke-width="1.8" stroke-linejoin="round"/>
<g class="tx">
<text x="50.00" y="21.30" text-anchor="end" style="font-size:13.6px;font-weight:bold;">40k</text>
<text x="50.00" y="53.89" text-anchor="end" style="font-size:13.6px;font-weight:bold;">30k</text>
<text x="50.00" y="86.47" text-anchor="end" style="font-size:13.6px;font-weight:bold;">20k</text>
<text x="50.00" y="119.06" text-anchor="end" style="font-size:13.6px;font-weight:bold;">10k</text>
<text x="50.00" y="151.64" text-anchor="end" style="font-size:13.6px;font-weight:bold;">0</text>
<text x="50.00" y="154.90" text-anchor="end" style="font-size:13.6px;font-weight:bold;">40k</text>
<text x="50.00" y="187.49" text-anchor="end" style="font-size:13.6px;font-weight:bold;">30k</text>
<text x="50.00" y="220.07" text-anchor="end" style="font-size:13.6px;font-weight:bold;">20k</text>
<text x="50.00" y="252.66" text-anchor="end" style="font-size:13.6px;font-weight:bold;">10k</text>
<text x="50.00" y="285.24" text-anchor="end" style="font-size:13.6px;font-weight:bold;">0</text>
<text x="50.00" y="288.50" text-anchor="end" style="font-size:13.6px;font-weight:bold;">40k</text>
<text x="50.00" y="321.09" text-anchor="end" style="font-size:13.6px;font-weight:bold;">30k</text>
<text x="50.00" y="353.67" text-anchor="end" style="font-size:13.6px;font-weight:bold;">20k</text>
<text x="50.00" y="386.26" text-anchor="end" style="font-size:13.6px;font-weight:bold;">10k</text>
<text x="50.00" y="418.84" text-anchor="end" style="font-size:13.6px;font-weight:bold;">0</text>
<text x="56.00" y="434.80" text-anchor="middle" style="font-size:13.6px;font-weight:bold;">0</text>
<text x="109.56" y="434.80" text-anchor="middle" style="font-size:13.6px;font-weight:bold;">1</text>
<text x="163.12" y="434.80" text-anchor="middle" style="font-size:13.6px;font-weight:bold;">2</text>
<text x="216.68" y="434.80" text-anchor="middle" style="font-size:13.6px;font-weight:bold;">3</text>
<text x="270.24" y="434.80" text-anchor="middle" style="font-size:13.6px;font-weight:bold;">4</text>
<text x="323.80" y="434.80" text-anchor="middle" style="font-size:13.6px;font-weight:bold;">5</text>
<text x="407.80" y="21.90" text-anchor="end" style="font-size:13.6px;font-weight:bold;">40k</text>
<text x="407.80" y="54.38" text-anchor="end" style="font-size:13.6px;font-weight:bold;">30k</text>
<text x="407.80" y="86.86" text-anchor="end" style="font-size:13.6px;font-weight:bold;">20k</text>
<text x="407.80" y="119.34" text-anchor="end" style="font-size:13.6px;font-weight:bold;">10k</text>
<text x="407.80" y="151.82" text-anchor="end" style="font-size:13.6px;font-weight:bold;">0</text>
<text x="407.80" y="155.07" text-anchor="end" style="font-size:13.6px;font-weight:bold;">40k</text>
<text x="407.80" y="187.55" text-anchor="end" style="font-size:13.6px;font-weight:bold;">30k</text>
<text x="407.80" y="220.03" text-anchor="end" style="font-size:13.6px;font-weight:bold;">20k</text>
<text x="407.80" y="252.51" text-anchor="end" style="font-size:13.6px;font-weight:bold;">10k</text>
<text x="407.80" y="284.99" text-anchor="end" style="font-size:13.6px;font-weight:bold;">0</text>
<text x="407.80" y="288.24" text-anchor="end" style="font-size:13.6px;font-weight:bold;">40k</text>
<text x="407.80" y="320.72" text-anchor="end" style="font-size:13.6px;font-weight:bold;">30k</text>
<text x="407.80" y="353.20" text-anchor="end" style="font-size:13.6px;font-weight:bold;">20k</text>
<text x="407.80" y="385.68" text-anchor="end" style="font-size:13.6px;font-weight:bold;">10k</text>
<text x="407.80" y="418.16" text-anchor="end" style="font-size:13.6px;font-weight:bold;">0</text>
<text x="414.20" y="433.60" text-anchor="middle" style="font-size:13.6px;font-weight:bold;">0</text>
<text x="467.60" y="433.60" text-anchor="middle" style="font-size:13.6px;font-weight:bold;">1</text>
<text x="521.00" y="433.60" text-anchor="middle" style="font-size:13.6px;font-weight:bold;">2</text>
<text x="574.40" y="433.60" text-anchor="middle" style="font-size:13.6px;font-weight:bold;">3</text>
<text x="627.80" y="433.60" text-anchor="middle" style="font-size:13.6px;font-weight:bold;">4</text>
<text x="681.20" y="433.60" text-anchor="middle" style="font-size:13.6px;font-weight:bold;">5</text>
<text transform="translate(0.76,18.10) scale(1.0204,1)" style="font-size:21px;font-weight:bold;">(a)</text>
<text transform="translate(357.85,17.20) scale(1.0429,1)" style="font-size:20.8px;font-weight:bold;">(b)</text>
<text transform="translate(143.91,454.50) scale(0.9781,1)" style="font-size:17.4px;font-weight:bold;">Energy (keV)</text>
<text transform="translate(504.51,456.60) scale(0.9904,1)" style="font-size:17.1px;font-weight:bold;">Energy(keV)</text>
<text transform="translate(18.70,253.79) rotate(-90) scale(0.9533,1)" style="font-size:18px;font-weight:bold">KCnt (cps)</text>
<text transform="translate(375.00,267.79) rotate(-90) scale(0.9506,1)" style="font-size:18px;font-weight:bold">KCnt(cps)</text>
<text transform="translate(66.19,31.70) scale(0.9936,1)" style="font-size:12.4px;font-weight:bold;">BC-HA</text>
<text transform="translate(65.39,168.00) scale(0.9889,1)" style="font-size:12.4px;font-weight:bold;">BC-NaHA</text>
<text transform="translate(64.88,301.70) scale(1.0247,1)" style="font-size:12.5px;font-weight:bold;">BC</text>
<text transform="translate(426.29,35.10) scale(1.0774,1)" style="font-size:11.7px;font-weight:bold;">BC-HA+Ni</text>
<text transform="translate(426.49,166.80) scale(1.0455,1)" style="font-size:11.8px;font-weight:bold;">BC-NaHA+Ni</text>
<text transform="translate(425.99,302.80) scale(1.0053,1)" style="font-size:12.2px;font-weight:bold;">BC+Ni</text>
<text transform="translate(67.09,47.70) scale(1.0329,1)" style="font-size:12.0px;font-weight:bold;">C</text>
<text transform="translate(78.49,93.20) scale(1.0163,1)" style="font-size:12.3px;font-weight:bold;">O</text>
<text transform="translate(105.89,109.40) scale(0.9408,1)" style="font-size:11.9px;font-weight:bold;">Na</text>
<line x1="111.4" y1="112.8" x2="111.4" y2="133" stroke="#000" stroke-width="1.2" stroke-dasharray="5.5,8"/>
<text transform="translate(114.92,139.70) scale(0.9606,1)" style="font-size:10.8px;font-weight:bold;">Mg</text>
<text transform="translate(130.22,141.60) scale(0.7345,1)" style="font-size:11.2px;font-weight:bold;">A</text>
<text transform="translate(137.14,141.60) scale(0.7167,1)" style="font-size:11.0px;font-weight:bold;">l</text>
<text transform="translate(141.32,141.60) scale(0.9969,1)" style="font-size:11.0px;font-weight:bold;">Si</text>
<text transform="translate(164.99,121.90) scale(1.0446,1)" style="font-size:10.8px;font-weight:bold;">Au</text>
<text transform="translate(250.35,144.70) scale(0.8772,1)" style="font-size:12.7px;font-weight:bold;">Ca</text>
<text transform="translate(423.97,61.10) scale(1.0748,1)" style="font-size:12.0px;font-weight:bold;">C</text>
<text transform="translate(436.69,101.80) scale(1.0043,1)" style="font-size:12.3px;font-weight:bold;">O</text>
<text transform="translate(454.09,120.40) scale(0.9979,1)" style="font-size:11.1px;font-weight:bold;">Ni</text>
<text transform="translate(464.50,141.20) scale(0.8624,1)" style="font-size:12.2px;font-weight:bold;">Na</text>
<text transform="translate(474.41,136.70) scale(0.9116,1)" style="font-size:12.0px;font-weight:bold;">Mg</text>
<text transform="translate(488.19,138.60) scale(0.9456,1)" style="font-size:11.7px;font-weight:bold;">A</text>
<text transform="translate(496.71,138.60) scale(0.8598,1)" style="font-size:11.1px;font-weight:bold;">l</text>
<text transform="translate(500.29,140.20) scale(0.9904,1)" style="font-size:11.6px;font-weight:bold;">Si</text>
<text transform="translate(522.59,130.90) scale(0.9740,1)" style="font-size:11.5px;font-weight:bold;">Au</text>
<text transform="translate(604.02,143.90) scale(0.9384,1)" style="font-size:12.7px;font-weight:bold;">Ca</text>
<text x="248.40" y="29.71" text-anchor="middle" style="font-size:8.2px;font-weight:bold;">Element</text>
<text x="293.60" y="29.71" text-anchor="middle" style="font-size:8.2px;font-weight:bold;">Atomic(%)</text>
<text x="248.40" y="43.81" text-anchor="middle" style="font-size:8.2px;font-weight:bold;">C K</text>
<text x="293.60" y="43.81" text-anchor="middle" style="font-size:8.2px;font-weight:bold;">40.31</text>
<text x="248.40" y="57.91" text-anchor="middle" style="font-size:8.2px;font-weight:bold;">O K</text>
<text x="293.60" y="57.91" text-anchor="middle" style="font-size:8.2px;font-weight:bold;">57.21</text>
<text x="248.40" y="71.71" text-anchor="middle" style="font-size:8.2px;font-weight:bold;">NaK</text>
<text x="293.60" y="71.71" text-anchor="middle" style="font-size:8.2px;font-weight:bold;">0.53</text>
<text x="248.40" y="86.01" text-anchor="middle" style="font-size:8.2px;font-weight:bold;">MgK</text>
<text x="293.60" y="86.01" text-anchor="middle" style="font-size:8.2px;font-weight:bold;">0.18</text>
<text x="248.40" y="99.81" text-anchor="middle" style="font-size:8.2px;font-weight:bold;">AlK</text>
<text x="293.60" y="99.81" text-anchor="middle" style="font-size:8.2px;font-weight:bold;">0.37</text>
<text x="248.40" y="113.71" text-anchor="middle" style="font-size:8.2px;font-weight:bold;">SiK</text>
<text x="293.60" y="113.71" text-anchor="middle" style="font-size:8.2px;font-weight:bold;">0.53</text>
<text x="248.40" y="127.91" text-anchor="middle" style="font-size:8.2px;font-weight:bold;">CaK</text>
<text x="293.60" y="127.91" text-anchor="middle" style="font-size:8.2px;font-weight:bold;">0.87</text>
<text x="246.50" y="166.77" text-anchor="middle" style="font-size:8.4px;font-weight:bold;">Element</text>
<text x="292.10" y="166.77" text-anchor="middle" style="font-size:8.4px;font-weight:bold;">Atomic(%)</text>
<text x="246.50" y="181.57" text-anchor="middle" style="font-size:8.4px;font-weight:bold;">C K</text>
<text x="292.10" y="181.57" text-anchor="middle" style="font-size:8.4px;font-weight:bold;">58.41</text>
<text x="246.50" y="195.87" text-anchor="middle" style="font-size:8.4px;font-weight:bold;">O K</text>
<text x="292.10" y="195.87" text-anchor="middle" style="font-size:8.4px;font-weight:bold;">40.96</text>
<text x="246.50" y="210.07" text-anchor="middle" style="font-size:8.4px;font-weight:bold;">NaK</text>
<text x="292.10" y="210.07" text-anchor="middle" style="font-size:8.4px;font-weight:bold;">0.33</text>
<text x="246.50" y="224.87" text-anchor="middle" style="font-size:8.4px;font-weight:bold;">MgK</text>
<text x="292.10" y="224.87" text-anchor="middle" style="font-size:8.4px;font-weight:bold;">0.01</text>
<text x="246.50" y="238.97" text-anchor="middle" style="font-size:8.4px;font-weight:bold;">AlK</text>
<text x="292.10" y="238.97" text-anchor="middle" style="font-size:8.4px;font-weight:bold;">0.07</text>
<text x="246.50" y="253.67" text-anchor="middle" style="font-size:8.4px;font-weight:bold;">SiK</text>
<text x="292.10" y="253.67" text-anchor="middle" style="font-size:8.4px;font-weight:bold;">0.17</text>
<text x="246.50" y="267.97" text-anchor="middle" style="font-size:8.4px;font-weight:bold;">CaK</text>
<text x="292.10" y="267.97" text-anchor="middle" style="font-size:8.4px;font-weight:bold;">0.05</text>
<text x="245.20" y="300.87" text-anchor="middle" style="font-size:9.0px;font-weight:bold;">Element</text>
<text x="289.20" y="300.87" text-anchor="middle" style="font-size:9.0px;font-weight:bold;">Atomic(%</text>
<text x="245.20" y="314.57" text-anchor="middle" style="font-size:9.0px;font-weight:bold;">C K</text>
<text x="289.20" y="314.57" text-anchor="middle" style="font-size:9.0px;font-weight:bold;">60.14</text>
<text x="245.20" y="328.37" text-anchor="middle" style="font-size:9.0px;font-weight:bold;">O K</text>
<text x="289.20" y="328.37" text-anchor="middle" style="font-size:9.0px;font-weight:bold;">38.7</text>
<text x="245.20" y="341.97" text-anchor="middle" style="font-size:9.0px;font-weight:bold;">NaK</text>
<text x="289.20" y="341.97" text-anchor="middle" style="font-size:9.0px;font-weight:bold;">0.61</text>
<text x="245.20" y="355.87" text-anchor="middle" style="font-size:9.0px;font-weight:bold;">MgK</text>
<text x="289.20" y="355.87" text-anchor="middle" style="font-size:9.0px;font-weight:bold;">0.05</text>
<text x="245.20" y="369.37" text-anchor="middle" style="font-size:9.0px;font-weight:bold;">AlK</text>
<text x="289.20" y="369.37" text-anchor="middle" style="font-size:9.0px;font-weight:bold;">0.17</text>
<text x="245.20" y="383.17" text-anchor="middle" style="font-size:9.0px;font-weight:bold;">SiK</text>
<text x="289.20" y="383.17" text-anchor="middle" style="font-size:9.0px;font-weight:bold;">0.24</text>
<text x="245.20" y="396.77" text-anchor="middle" style="font-size:9.0px;font-weight:bold;">CaK</text>
<text x="289.20" y="396.77" text-anchor="middle" style="font-size:9.0px;font-weight:bold;">0.09</text>
<text x="609.90" y="33.24" text-anchor="middle" style="font-size:8.0px;font-weight:bold;">Element</text>
<text x="652.40" y="33.24" text-anchor="middle" style="font-size:8.0px;font-weight:bold;">Atomic(%)</text>
<text x="609.90" y="45.14" text-anchor="middle" style="font-size:8.0px;font-weight:bold;">C K</text>
<text x="652.40" y="45.14" text-anchor="middle" style="font-size:8.0px;font-weight:bold;">50.62</text>
<text x="609.90" y="57.14" text-anchor="middle" style="font-size:8.0px;font-weight:bold;">O K</text>
<text x="652.40" y="57.14" text-anchor="middle" style="font-size:8.0px;font-weight:bold;">43.56</text>
<text x="609.90" y="68.94" text-anchor="middle" style="font-size:8.0px;font-weight:bold;">NiK</text>
<text x="652.40" y="68.94" text-anchor="middle" style="font-size:8.0px;font-weight:bold;">5.11</text>
<text x="609.90" y="80.74" text-anchor="middle" style="font-size:8.0px;font-weight:bold;">NaK</text>
<text x="652.40" y="80.74" text-anchor="middle" style="font-size:8.0px;font-weight:bold;">0.05</text>
<text x="609.90" y="92.94" text-anchor="middle" style="font-size:8.0px;font-weight:bold;">MgK</text>
<text x="652.40" y="92.94" text-anchor="middle" style="font-size:8.0px;font-weight:bold;">0.05</text>
<text x="609.90" y="104.84" text-anchor="middle" style="font-size:8.0px;font-weight:bold;">AlK</text>
<text x="652.40" y="104.84" text-anchor="middle" style="font-size:8.0px;font-weight:bold;">0.26</text>
<text x="609.90" y="116.94" text-anchor="middle" style="font-size:8.0px;font-weight:bold;">SiK</text>
<text x="652.40" y="116.94" text-anchor="middle" style="font-size:8.0px;font-weight:bold;">0.23</text>
<text x="609.90" y="128.64" text-anchor="middle" style="font-size:8.0px;font-weight:bold;">CaK</text>
<text x="652.40" y="128.64" text-anchor="middle" style="font-size:8.0px;font-weight:bold;">0.12</text>
<text x="606.50" y="169.11" text-anchor="middle" style="font-size:7.6px;font-weight:bold;">Element</text>
<text x="649.40" y="169.11" text-anchor="middle" style="font-size:7.6px;font-weight:bold;">Atomic(%)</text>
<text x="606.50" y="180.71" text-anchor="middle" style="font-size:7.6px;font-weight:bold;">C K</text>
<text x="649.40" y="180.71" text-anchor="middle" style="font-size:7.6px;font-weight:bold;">64.81</text>
<text x="606.50" y="192.31" text-anchor="middle" style="font-size:7.6px;font-weight:bold;">O K</text>
<text x="649.40" y="192.31" text-anchor="middle" style="font-size:7.6px;font-weight:bold;">31.18</text>
<text x="606.50" y="204.11" text-anchor="middle" style="font-size:7.6px;font-weight:bold;">NiK</text>
<text x="649.40" y="204.11" text-anchor="middle" style="font-size:7.6px;font-weight:bold;">3.06</text>
<text x="606.50" y="215.51" text-anchor="middle" style="font-size:7.6px;font-weight:bold;">NaK</text>
<text x="649.40" y="215.51" text-anchor="middle" style="font-size:7.6px;font-weight:bold;">0.03</text>
<text x="606.50" y="227.31" text-anchor="middle" style="font-size:7.6px;font-weight:bold;">MgK</text>
<text x="649.40" y="227.31" text-anchor="middle" style="font-size:7.6px;font-weight:bold;">0.14</text>
<text x="606.50" y="238.91" text-anchor="middle" style="font-size:7.6px;font-weight:bold;">AlK</text>
<text x="649.40" y="238.91" text-anchor="middle" style="font-size:7.6px;font-weight:bold;">0.15</text>
<text x="606.50" y="250.31" text-anchor="middle" style="font-size:7.6px;font-weight:bold;">SiK</text>
<text x="649.40" y="250.31" text-anchor="middle" style="font-size:7.6px;font-weight:bold;">0.41</text>
<text x="606.50" y="262.21" text-anchor="middle" style="font-size:7.6px;font-weight:bold;">CaK</text>
<text x="649.40" y="262.21" text-anchor="middle" style="font-size:7.6px;font-weight:bold;">0.22</text>
<text x="606.60" y="304.01" text-anchor="middle" style="font-size:7.9px;font-weight:bold;">Element</text>
<text x="649.40" y="304.01" text-anchor="middle" style="font-size:7.9px;font-weight:bold;">Atomic(%)</text>
<text x="606.60" y="315.81" text-anchor="middle" style="font-size:7.9px;font-weight:bold;">C K</text>
<text x="649.40" y="315.81" text-anchor="middle" style="font-size:7.9px;font-weight:bold;">72.93</text>
<text x="606.60" y="327.61" text-anchor="middle" style="font-size:7.9px;font-weight:bold;">O K</text>
<text x="649.40" y="327.61" text-anchor="middle" style="font-size:7.9px;font-weight:bold;">25.96</text>
<text x="606.60" y="339.61" text-anchor="middle" style="font-size:7.9px;font-weight:bold;">NiK</text>
<text x="649.40" y="339.61" text-anchor="middle" style="font-size:7.9px;font-weight:bold;">0.64</text>
<text x="606.60" y="351.41" text-anchor="middle" style="font-size:7.9px;font-weight:bold;">NaK</text>
<text x="649.40" y="351.41" text-anchor="middle" style="font-size:7.9px;font-weight:bold;">0.02</text>
<text x="606.60" y="363.31" text-anchor="middle" style="font-size:7.9px;font-weight:bold;">MgK</text>
<text x="649.40" y="363.31" text-anchor="middle" style="font-size:7.9px;font-weight:bold;">0.04</text>
<text x="606.60" y="375.01" text-anchor="middle" style="font-size:7.9px;font-weight:bold;">AlK</text>
<text x="649.40" y="375.01" text-anchor="middle" style="font-size:7.9px;font-weight:bold;">0.08</text>
<text x="606.60" y="387.11" text-anchor="middle" style="font-size:7.9px;font-weight:bold;">SiK</text>
<text x="649.40" y="387.11" text-anchor="middle" style="font-size:7.9px;font-weight:bold;">0.24</text>
<text x="606.60" y="399.01" text-anchor="middle" style="font-size:7.9px;font-weight:bold;">CaK</text>
<text x="649.40" y="399.01" text-anchor="middle" style="font-size:7.9px;font-weight:bold;">0.1</text>
</g>
</svg></body></html>
